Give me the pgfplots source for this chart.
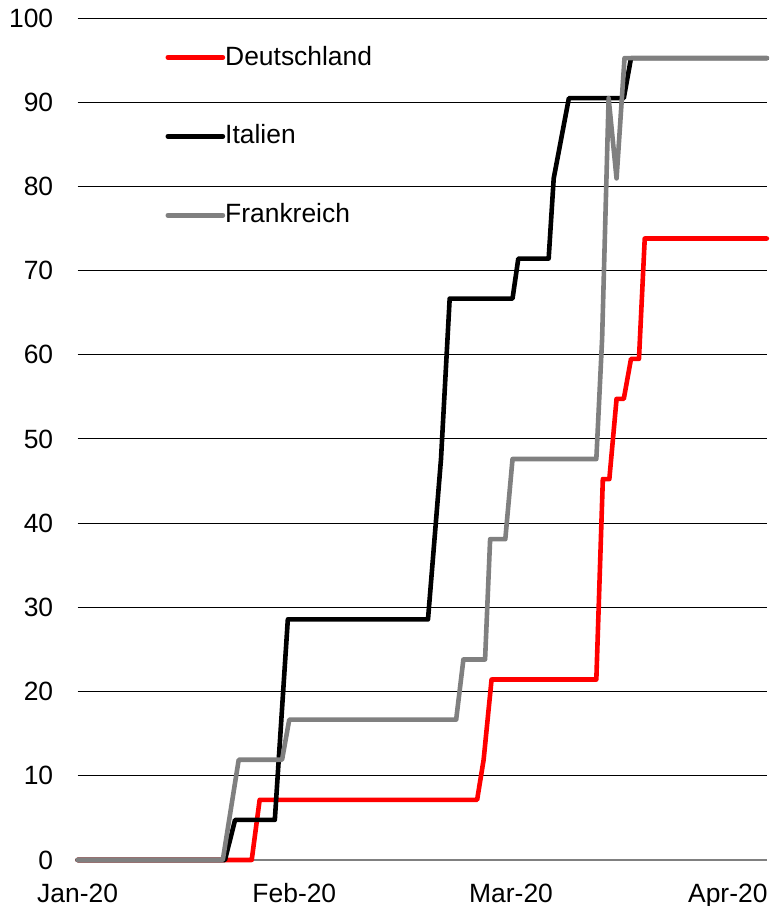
\documentclass[border=0pt]{standalone}
\usepackage{fontspec}
\setmainfont{Liberation Sans}
\usepackage{pgfplots}
\pgfplotsset{compat=1.18}
\definecolor{frgray}{RGB}{128,128,128}
\begin{document}
\fontsize{13.2bp}{15.8bp}\selectfont
\begin{tikzpicture}
\useasboundingbox (-38.75bp,-23bp) rectangle (346.75bp,429.5bp);
\begin{axis}[
  at={(0,0)}, anchor=south west,
  scale only axis,
  width=344.25bp, height=420.5bp,
  xmin=0, xmax=95.4, ymin=0, ymax=100,
  xtick={0,30,60,90},
  xticklabels={Jan-20,Feb-20,Mar-20,Apr-20},
  ytick={0,10,...,100},
  major tick length=0pt,
  axis y line*=left,
  axis x line*=bottom,
  y axis line style={draw=none},
  x axis line style={draw=frgray, line width=0.8bp, -},
  ymajorgrids,
  grid style={black, line width=0.5bp},
  clip=false,
  /pgf/number format/assume math mode=true,
  tick label style={font=\fontsize{13.2bp}{15.8bp}\selectfont},
  yticklabel style={anchor=east, inner sep=0pt, xshift=-12bp},
  xticklabel style={anchor=north, inner sep=0pt, yshift=-11.5bp, text height=9.5bp, text depth=0pt},
  legend style={at={(0.127,0.9674)}, anchor=north west, draw=none, fill=none,
    inner sep=0pt, row sep=27.9bp, nodes={inner sep=0pt},
    font=\fontsize{13.2bp}{15.8bp}\selectfont,
    /tikz/every even column/.append style={column sep=2.2bp}},
  legend cell align=left,
  legend image code/.code={\draw[#1, line cap=round] (0bp,0bp) -- (27.5bp,0bp);},
  every axis plot/.append style={line width=2.3bp, line join=round, line cap=round},
]
\addplot[red] coordinates {
 (0,0) (24.1,0) (25.2,7.14) (55.3,7.14) (56.2,11.9) (57.3,21.43) (71.8,21.43)
 (72.7,45.24) (73.6,45.24) (74.6,54.76) (75.6,54.76) (76.6,59.52) (77.7,59.52)
 (78.5,73.81) (95.4,73.81)};
\addlegendentry{Deutschland}
\addplot[black] coordinates {
 (0,0) (20.4,0) (21.8,4.76) (27.3,4.76) (29.1,28.57) (48.5,28.57) (50.3,47.62)
 (51.5,66.67) (60.2,66.67) (61.0,71.43) (65.2,71.43) (65.9,80.95) (68.0,90.48)
 (75.6,90.48) (76.6,95.24) (95.4,95.24)};
\addlegendentry{Italien}
\addplot[frgray] coordinates {
 (0,0) (20.1,0) (22.3,11.9) (28.3,11.9) (29.3,16.67) (52.4,16.67) (53.4,23.81)
 (56.4,23.81) (57.1,38.1) (59.2,38.1) (60.2,47.62) (71.8,47.62) (72.6,61.9)
 (73.5,90.48) (74.6,80.95) (75.7,95.24) (95.4,95.24)};
\addlegendentry{Frankreich}
\end{axis}
\end{tikzpicture}
\end{document}
